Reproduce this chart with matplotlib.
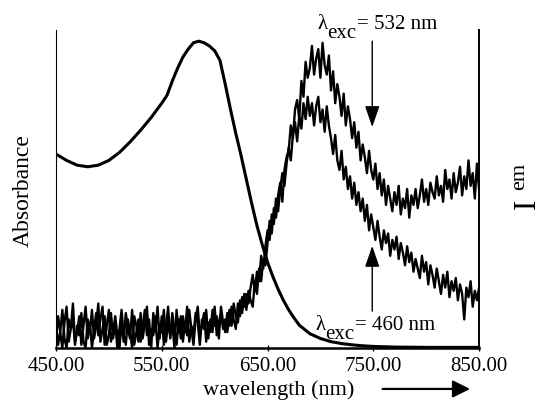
import matplotlib.pyplot as plt
from matplotlib.patches import FancyArrowPatch

plt.rcParams['font.family'] = ['Liberation Serif', 'DejaVu Serif']
plt.rcParams['mathtext.fontset'] = 'stix'

# absorbance spectrum (arbitrary units, 0 = baseline, 1 = top of frame)
abs_nm = [450, 460, 470, 480, 490, 500, 510, 520, 530, 540, 550, 555, 560, 565,
          570, 575, 580, 585, 590, 595, 600, 605, 610, 615, 620, 625, 630, 635,
          640, 645, 650, 655, 660, 665, 670, 675, 680, 690, 700, 710, 720, 730,
          740, 750, 770, 800, 850]
abs_val = [0.61, 0.59, 0.575, 0.57, 0.575, 0.59, 0.615, 0.648, 0.685, 0.725, 0.77,
           0.795, 0.84, 0.88, 0.915, 0.94, 0.96, 0.965, 0.96, 0.95, 0.935, 0.905,
           0.83, 0.75, 0.675, 0.605, 0.53, 0.455, 0.385, 0.325, 0.27, 0.225, 0.185,
           0.15, 0.12, 0.095, 0.072, 0.045, 0.03, 0.02, 0.014, 0.01, 0.007, 0.005,
           0.003, 0.002, 0.002]

# emission spectra, 450-850 nm every 2 nm
em_nm = list(range(450, 851, 2))
em_532 = [
    0.03, 0.10, 0.05, 0.00, 0.08, 0.13, 0.02, 0.06, 0.09, 0.01,
    0.07, 0.04, 0.11, 0.02, 0.00, 0.09, 0.05, 0.12, 0.03, 0.07,
    0.14, 0.02, 0.06, 0.10, 0.01, 0.04, 0.11, 0.03, 0.08, 0.00,
    0.06, 0.12, 0.04, 0.01, 0.09, 0.05, 0.00, 0.10, 0.07, 0.02,
    0.11, 0.03, 0.08, 0.13, 0.01, 0.06, 0.04, 0.10, 0.00, 0.07,
    0.05, 0.12, 0.02, 0.08, 0.04, 0.11, 0.06, 0.01, 0.09, 0.03,
    0.10, 0.05, 0.13, 0.02, 0.07, 0.04, 0.11, 0.08, 0.01, 0.09,
    0.06, 0.12, 0.03, 0.09, 0.05, 0.13, 0.04, 0.08, 0.11, 0.06,
    0.09, 0.05, 0.12, 0.07, 0.14, 0.10, 0.08, 0.15, 0.11, 0.17,
    0.12, 0.18, 0.15, 0.13, 0.21, 0.17, 0.25, 0.21, 0.28, 0.26,
    0.33, 0.40, 0.36, 0.44, 0.41, 0.48, 0.52, 0.46, 0.56, 0.60,
    0.62, 0.70, 0.66, 0.75, 0.78, 0.72, 0.84, 0.79, 0.90, 0.85,
    0.88, 0.95, 0.86, 0.91, 0.94, 0.85, 0.96, 0.89, 0.86, 0.92,
    0.81, 0.87, 0.77, 0.83, 0.79, 0.73, 0.80, 0.70, 0.76, 0.72,
    0.66, 0.71, 0.63, 0.68, 0.59, 0.64, 0.60, 0.55, 0.62, 0.56,
    0.53, 0.58, 0.50, 0.55, 0.48, 0.53, 0.45, 0.51, 0.47, 0.43,
    0.49, 0.45, 0.51, 0.42, 0.47, 0.44, 0.50, 0.41, 0.48, 0.45,
    0.50, 0.44, 0.48, 0.53, 0.46, 0.50, 0.45, 0.52, 0.49, 0.47,
    0.54, 0.48, 0.51, 0.46, 0.56, 0.50, 0.53, 0.47, 0.55, 0.49,
    0.52, 0.57, 0.48, 0.54, 0.50, 0.59, 0.51, 0.55, 0.47, 0.58,
    0.50]
em_460 = [
    0.08, 0.01, 0.05, 0.12, 0.03, 0.00, 0.09, 0.06, 0.14, 0.02,
    0.05, 0.10, 0.01, 0.07, 0.13, 0.03, 0.08, 0.00, 0.06, 0.11,
    0.04, 0.09, 0.13, 0.01, 0.07, 0.12, 0.02, 0.05, 0.10, 0.04,
    0.00, 0.08, 0.02, 0.11, 0.06, 0.03, 0.12, 0.01, 0.05, 0.09,
    0.02, 0.07, 0.12, 0.04, 0.09, 0.00, 0.11, 0.05, 0.13, 0.03,
    0.10, 0.01, 0.06, 0.13, 0.03, 0.08, 0.00, 0.12, 0.05, 0.10,
    0.02, 0.08, 0.04, 0.12, 0.06, 0.01, 0.09, 0.13, 0.04, 0.07,
    0.11, 0.02, 0.08, 0.05, 0.12, 0.07, 0.10, 0.03, 0.13, 0.08,
    0.05, 0.11, 0.07, 0.13, 0.09, 0.06, 0.14, 0.10, 0.16, 0.13,
    0.17, 0.14, 0.19, 0.23, 0.18, 0.24, 0.21, 0.29, 0.25, 0.32,
    0.37, 0.34, 0.42, 0.39, 0.47, 0.43, 0.50, 0.55, 0.51, 0.58,
    0.63, 0.59, 0.67, 0.71, 0.65, 0.73, 0.69, 0.77, 0.72, 0.79,
    0.73, 0.77, 0.70, 0.76, 0.79, 0.71, 0.75, 0.68, 0.76, 0.70,
    0.66, 0.61, 0.67, 0.59, 0.56, 0.62, 0.53, 0.57, 0.50, 0.54,
    0.47, 0.52, 0.45, 0.49, 0.43, 0.47, 0.40, 0.45, 0.37, 0.42,
    0.38, 0.34, 0.40, 0.35, 0.31, 0.37, 0.33, 0.36, 0.29, 0.34,
    0.31, 0.35, 0.28, 0.33, 0.30, 0.26, 0.32, 0.27, 0.30, 0.24,
    0.28, 0.25, 0.22, 0.29, 0.24, 0.27, 0.20, 0.26, 0.23, 0.19,
    0.25, 0.21, 0.17, 0.23, 0.19, 0.24, 0.16, 0.21, 0.18, 0.22,
    0.15, 0.20, 0.17, 0.09, 0.19, 0.16, 0.21, 0.13, 0.18, 0.15,
    0.19]

x_ticks = [450, 550, 650, 750, 850]
x_ticklabels = ['450.00', '550.00', '650.00', '750.00', '850.00']

fig = plt.figure(figsize=(5.41, 4.02), dpi=100)
ax = fig.add_axes([0.1035, 0.1318, 0.782, 0.791])

ax.plot(em_nm, em_532, color='black', lw=1.7)
ax.plot(em_nm, em_460, color='black', lw=1.7)
ax.plot(abs_nm, abs_val, color='black', lw=2.2, solid_capstyle='round')

ax.set_xlim(450, 850)
ax.set_ylim(0, 1)
ax.set_xticks(x_ticks)
ax.set_xticklabels(x_ticklabels, fontsize=15)
ax.set_yticks([])
ax.tick_params(axis='x', direction='inout', length=5, width=1, pad=3)

ax.spines['top'].set_visible(False)
ax.spines['left'].set_linewidth(0.8)
ax.spines['right'].set_linewidth(1.4)
ax.spines['bottom'].set_linewidth(1.8)

# arrows to the two emission traces
arrow_style = '-|>,head_length=1.3,head_width=0.45'
ax.annotate('', xy=(749, 0.695), xytext=(749, 0.965),
            arrowprops=dict(arrowstyle=arrow_style, color='black', lw=1.0,
                            shrinkA=0, shrinkB=0))
ax.annotate('', xy=(749, 0.321), xytext=(749, 0.116),
            arrowprops=dict(arrowstyle=arrow_style, color='black', lw=1.0,
                            shrinkA=0, shrinkB=0))

# labels: lambda, lowered "exc", rest of the text
for x0, y0, rest in [(696.8, 1.006, '= 532 nm'), (694.9, 0.06, '= 460 nm')]:
    ax.text(x0, y0, 'λ', ha='left', va='baseline', fontsize=15, clip_on=False)
    ax.text(x0 + 9.5, y0 - 0.028, 'exc', ha='left', va='baseline', fontsize=15,
            clip_on=False)
    ax.text(x0 + 37.5, y0, rest, ha='left', va='baseline', fontsize=15,
            clip_on=False)

fig.text(0.0425, 0.525, 'Absorbance', rotation=90, ha='center', va='center',
         fontsize=17)
fig.text(0.974, 0.493, 'I', rotation=90, ha='center', va='center', fontsize=22)
fig.text(0.960, 0.56, 'em', rotation=90, ha='center', va='center', fontsize=16)
fig.text(0.515, 0.03, 'wavelength (nm)', ha='center', va='center', fontsize=16)
fig.add_artist(FancyArrowPatch(
    (0.702, 0.03), (0.874, 0.03), transform=fig.transFigure,
    arrowstyle='-|>,head_length=7,head_width=3.5', color='black', lw=1.6,
    mutation_scale=1.5))

fig.savefig('out.png', dpi=100)
